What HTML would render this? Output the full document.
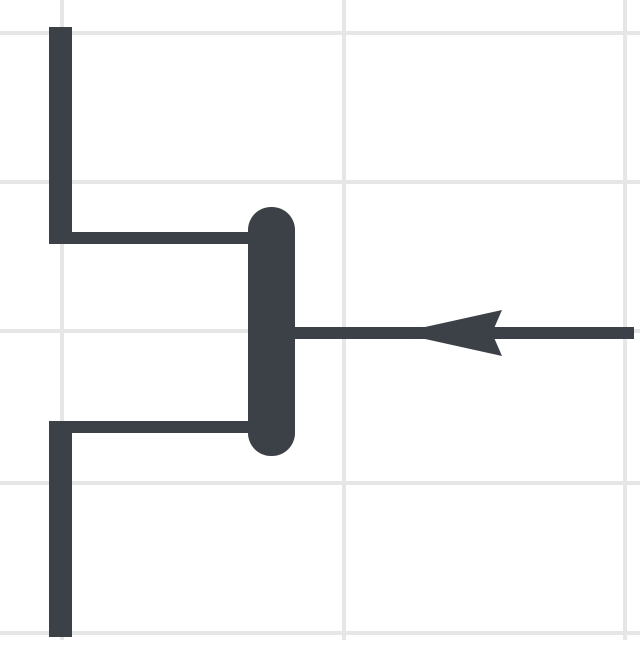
<!DOCTYPE html>
<html><head><style>html,body{margin:0;padding:0;background:#fff}</style></head>
<body>
<svg width="640" height="640" viewBox="0 0 640 640" xmlns="http://www.w3.org/2000/svg">
<g stroke="#e6e6e6" stroke-width="4">
<line x1="62" y1="0" x2="62" y2="640"/>
<line x1="344" y1="0" x2="344" y2="640"/>
<line x1="625" y1="0" x2="625" y2="640"/>
<line x1="0" y1="33" x2="640" y2="33"/>
<line x1="0" y1="182" x2="640" y2="182"/>
<line x1="0" y1="331" x2="640" y2="331"/>
<line x1="0" y1="483" x2="640" y2="483"/>
<line x1="0" y1="633" x2="640" y2="633"/>
</g>
<g fill="#3b4146">
<rect x="49" y="27" width="23" height="217"/>
<rect x="49" y="232" width="205" height="12"/>
<rect x="49" y="421" width="205" height="12"/>
<rect x="49" y="421" width="23" height="216"/>
<rect x="248" y="207" width="47" height="249" rx="23"/>
<rect x="290" y="327" width="344" height="12"/>
<path d="M398 333 L502 310 L492 333 L502 356 Z"/>
</g>
</svg>
</body></html>
